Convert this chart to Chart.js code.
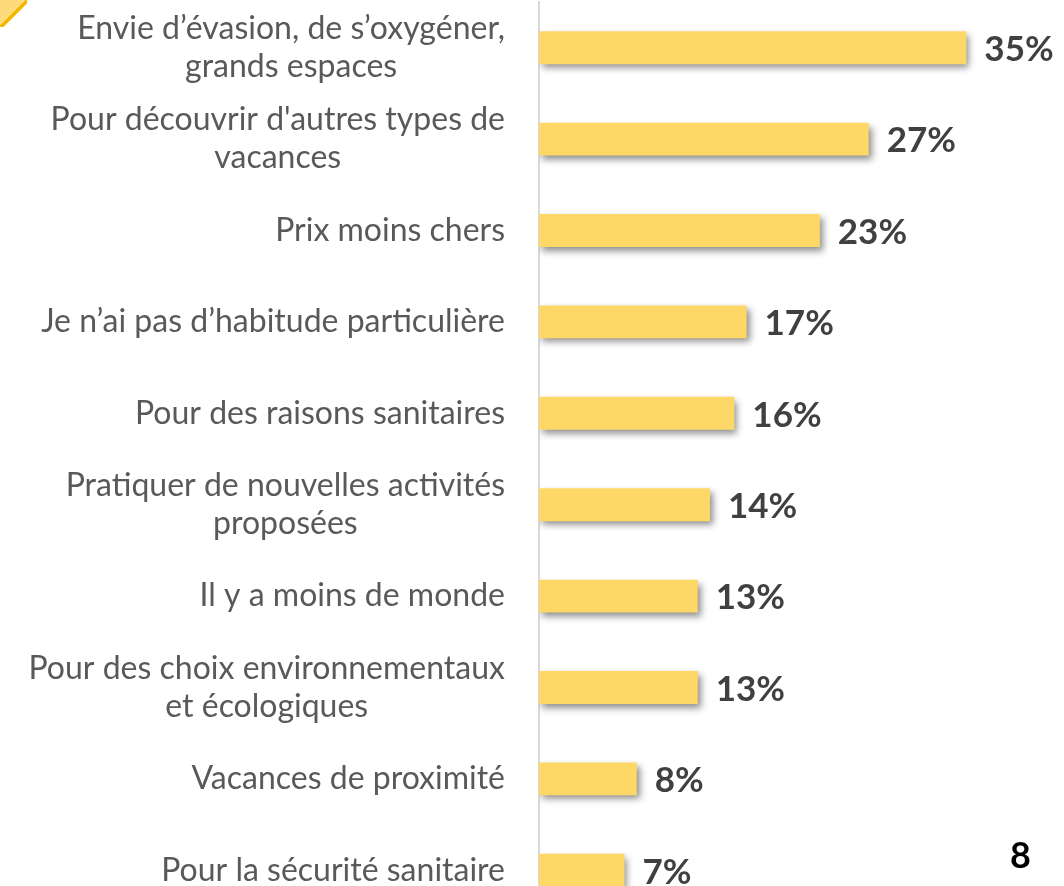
<!DOCTYPE html>
<html>
<head>
<meta charset="utf-8">
<script src="https://cdn.jsdelivr.net/npm/chart.js@4"></script>
<style>
  html, body { margin: 0; padding: 0; background: #fff; overflow: hidden; }
  #wrap { position: relative; width: 1064px; height: 886px; overflow: hidden; }
  #myChart { position: absolute; left: 0; top: 0; }
  #corner { position: absolute; left: 0; top: 0; width: 27px; height: 27px;
    background: linear-gradient(135deg, #FFDA7A 0, #FFDA7A 48%, #F5B800 48%, #F5B800 56%, rgba(255,255,255,0) 56%); }
  #page { position: absolute; left: 1010px; top: 836px; font: bold 36px/1 Lato, "Open Sans", sans-serif; color: #000; }
</style>
</head>
<body>
<div id="wrap">
  <canvas id="myChart" width="1064" height="920"></canvas>
  <div id="corner"></div>
  <div id="page">8</div>
</div>
<script>
var categories = [
  ['Envie d\u2019évasion, de s\u2019oxygéner,', 'grands espaces'],
  ['Pour découvrir d\'autres types de', 'vacances'],
  'Prix moins chers',
  'Je n\u2019ai pas d\u2019habitude particulière',
  'Pour des raisons sanitaires',
  ['Pratiquer de nouvelles activités', 'proposées'],
  'Il y a moins de monde',
  ['Pour des choix environnementaux', 'et écologiques'],
  'Vacances de proximité',
  'Pour la sécurité sanitaire'
];
var values = [35, 27, 23, 17, 16, 14, 13, 13, 8, 7];

var labelFont = '32px Lato, "Open Sans", sans-serif';
var lineH = 38;

var barShadow = {
  id: 'barShadow',
  beforeDatasetsDraw: function(chart) {
    var ctx = chart.ctx;
    ctx.save();
    ctx.shadowColor = 'rgba(0,0,0,0.45)';
    ctx.shadowBlur = 7;
    ctx.shadowOffsetX = 3;
    ctx.shadowOffsetY = 4;
  },
  afterDatasetsDraw: function(chart) {
    var ctx = chart.ctx;
    ctx.restore();
    // value labels
    var meta = chart.getDatasetMeta(0);
    ctx.save();
    ctx.fillStyle = '#404040';
    ctx.font = 'bold 35px Lato, "Open Sans", sans-serif';
    ctx.textAlign = 'left';
    ctx.textBaseline = 'middle';
    meta.data.forEach(function(bar, i) {
      ctx.fillText(values[i] + '%', bar.x + 18, bar.y + 2);
    });
    // category labels: block right aligned, lines centred inside
    var y = chart.scales.y;
    ctx.fillStyle = '#595959';
    ctx.font = labelFont;
    ctx.textAlign = 'center';
    categories.forEach(function(lab, i) {
      var lines = Array.isArray(lab) ? lab : [lab];
      var w = Math.max.apply(null, lines.map(function(l) { return ctx.measureText(l).width; }));
      var cx = 505 - w / 2;
      var py = y.getPixelForTick(i);
      var y0 = py - (lines.length - 1) * lineH / 2;
      lines.forEach(function(l, j) {
        ctx.fillText(l, cx, y0 + j * lineH);
      });
    });
    ctx.restore();
  }
};

var ctx = document.getElementById('myChart').getContext('2d');
var myChart = new Chart(ctx, {
  type: 'bar',
  data: {
    labels: categories,
    datasets: [{
      data: values,
      backgroundColor: '#FED866',
      borderWidth: 0,
      barPercentage: 0.36,
      categoryPercentage: 1
    }]
  },
  plugins: [barShadow],
  options: {
    indexAxis: 'y',
    responsive: false,
    animation: false,
    layout: { padding: { top: 2, bottom: 4, right: 0, left: 0 } },
    plugins: { legend: { display: false }, tooltip: { enabled: false } },
    scales: {
      x: { display: false, min: 0, max: 43 },
      y: {
        afterFit: function(scale) {
          scale.width = 539;
          scale.paddingTop = 0;
          scale.paddingBottom = 0;
        },
        grid: { display: false, drawTicks: false },
        border: { display: true, color: '#D9D9D9', width: 2 },
        ticks: {
          color: 'rgba(0,0,0,0)',
          padding: 34,
          font: { family: 'Lato, "Open Sans", sans-serif', size: 32, lineHeight: 1.19 }
        }
      }
    }
  }
});
</script>
</body>
</html>
